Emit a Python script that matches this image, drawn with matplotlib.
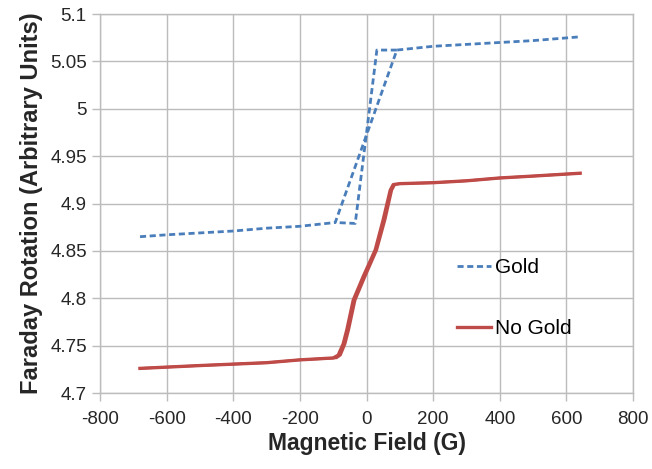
import matplotlib
matplotlib.use("Agg")
import matplotlib.pyplot as plt

# Gold: two branches of the hysteresis loop
gold_up_x = [-680, -600, -500, -400, -300, -200, -94, 91, 200, 300, 400, 500, 641]
gold_up_y = [4.865, 4.867, 4.869, 4.871, 4.874, 4.876, 4.880, 5.062, 5.066, 5.068, 5.070, 5.072, 5.076]
gold_down_x = [91, 31, -34, -94]
gold_down_y = [5.062, 5.062, 4.879, 4.880]

# No Gold: narrow loop, up and down sweeps nearly on top of each other
nogold_up_x = [-680, -500, -300, -200, -100, -85, -70, -59, -40, -10, 26, 50, 71, 80, 100, 200, 300, 400, 500, 641]
nogold_up_y = [4.726, 4.729, 4.732, 4.735, 4.737, 4.740, 4.752, 4.767, 4.798, 4.823, 4.851, 4.883, 4.914, 4.920, 4.921, 4.922, 4.924, 4.927, 4.929, 4.932]
nogold_down_x = [641, 500, 400, 300, 200, 100, 85, 76, 56, 31, -4, -34, -53, -64, -78, -90, -200, -300, -500, -680]
nogold_down_y = [4.932, 4.929, 4.927, 4.924, 4.922, 4.921, 4.920, 4.914, 4.883, 4.851, 4.823, 4.798, 4.767, 4.752, 4.740, 4.737, 4.735, 4.732, 4.729, 4.726]

x_ticks = [-800, -600, -400, -200, 0, 200, 400, 600, 800]
y_ticks = [4.7, 4.75, 4.8, 4.85, 4.9, 4.95, 5.0, 5.05, 5.1]
y_tick_labels = ["4.7", "4.75", "4.8", "4.85", "4.9", "4.95", "5", "5.05", "5.1"]

BLUE = "#4a7ebb"
RED = "#be4b48"
GRID = "#bcbcbc"
INK = "#262626"

plt.rcParams["font.family"] = ["Liberation Sans", "DejaVu Sans"]

fig = plt.figure(figsize=(6.52, 4.69), dpi=100)
ax = fig.add_axes([0.1534, 0.162, 0.8176, 0.808])

ax.plot(gold_up_x, gold_up_y, color=BLUE, linewidth=2, linestyle=(0, (2.2, 1.3)), label="Gold")
ax.plot(gold_down_x, gold_down_y, color=BLUE, linewidth=2, linestyle=(0, (2.2, 1.3)))
ax.plot(nogold_up_x, nogold_up_y, color=RED, linewidth=2.4, label="No Gold")
ax.plot(nogold_down_x, nogold_down_y, color=RED, linewidth=1.8)

ax.set_xlim(-800, 800)
ax.set_ylim(4.7, 5.1)
ax.set_xticks(x_ticks)
ax.set_xticklabels([str(t) for t in x_ticks])
ax.set_yticks(y_ticks)
ax.set_yticklabels(y_tick_labels)
ax.tick_params(axis="both", colors=GRID, labelcolor=INK, labelsize=13.5, length=6, width=1, direction="out")
ax.tick_params(axis="x", pad=7)

ax.grid(True, color=GRID, linewidth=1)
ax.set_axisbelow(True)
for spine in ax.spines.values():
    spine.set_color(GRID)
    spine.set_linewidth(1)

ax.set_xlabel("Magnetic Field (G)", fontsize=16.5, fontweight="bold", color=INK, labelpad=3)
ax.set_ylabel("Faraday Rotation (Arbitrary Units)", fontsize=17, fontweight="bold", color=INK, labelpad=5)

ax.legend(loc="upper left", bbox_to_anchor=(0.635, 0.405), frameon=False, fontsize=15,
          handlelength=1.6, handletextpad=0.2, labelspacing=2.0)

fig.savefig("out.png", dpi=100)
